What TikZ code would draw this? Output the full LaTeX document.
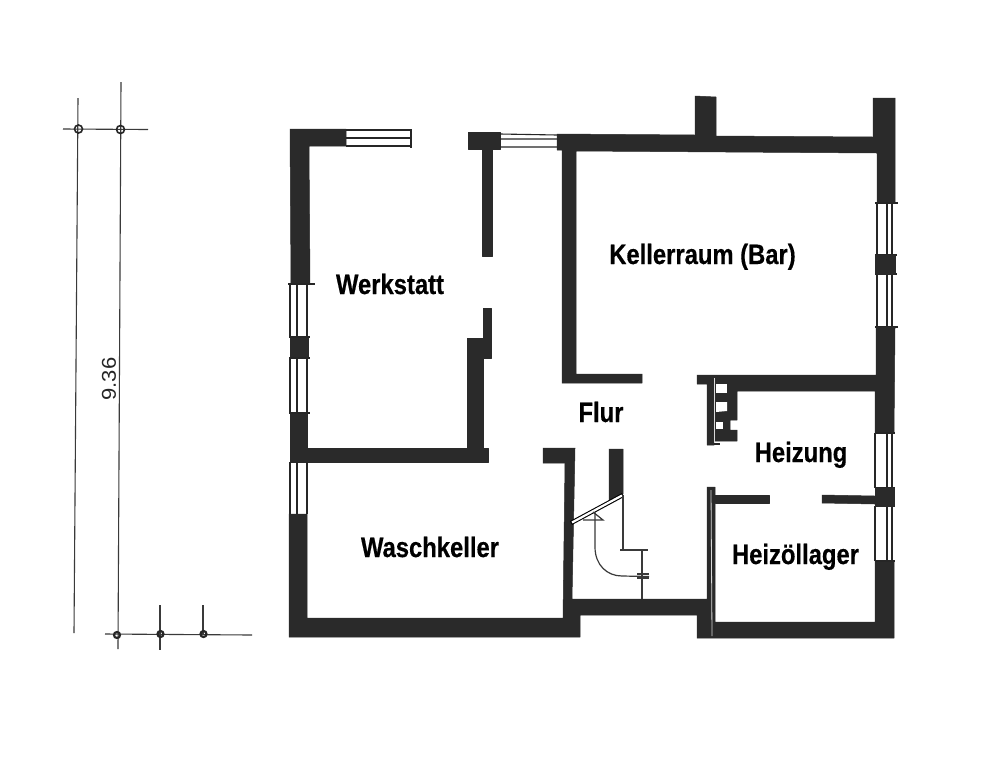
\documentclass[tikz,border=0pt]{standalone}
\usepackage{fontspec}
\setmainfont{Liberation Sans}
\newfontfamily\roomfont[BoldFont={Liberation Sans Bold},FakeBold=0.5]{Liberation Sans Bold}
\definecolor{wallc}{HTML}{2A2A2A}
\definecolor{linec}{HTML}{3A3A3A}
\tikzset{
  wall/.style={fill=wallc,draw=wallc,line width=.5pt,line join=round},
  hole/.style={fill=white,draw=none},
  thin line/.style={draw=linec,line width=1.2pt},
  win line/.style={draw=black!85,line width=1.1pt},
  dim line/.style={draw=linec,line width=1.1pt},
  dim mark/.style={draw=black!85,line width=1.6pt},
  room/.style={inner sep=0pt,anchor=base,font=\roomfont\fontsize{28}{28}\selectfont,text=black},
  scratch/.style={draw=white!85!black,line width=.8pt}
}
\newcommand{\roomtext}[1]{\scalebox{.85}[1]{#1}}
\begin{document}
\begin{tikzpicture}[x=1pt,y=-1pt]
\useasboundingbox[fill=white] (0,0) rectangle (1000,756);
% ---- dimension lines
\draw[dim line] (78,98) -- (74,633);
\draw[dim line] (121,82) -- (118,649);
\draw[dim line] (63,129) -- (148,129.5);
\draw[dim line] (105,634) -- (252,635);
\draw[dim line] (160,605) -- (160,650);
\draw[dim line] (203,605) -- (203,634);
\foreach \p in {(78.5,129),(120.5,129.5)} \draw[dim mark] \p circle [radius=4];
\foreach \p in {(117,635),(160.5,634),(203.5,634)} \draw[dim mark,line width=2.2pt] \p circle [radius=3];
\node[inner sep=0pt,rotate=90,font=\fontsize{20}{20}\selectfont,text=black!85] (dim) at (109,379) {\scalebox{1.1}[1]{9.36}};
% ---- outer left wall with windows
\fill[wall] (290,129) -- (346,129) -- (346,146) -- (309,146) -- (310,284) -- (291,284) -- cycle;
\fill[wall] (290,337) rectangle (308,358);
\fill[wall] (290,413) -- (307,413) -- (307,448) -- (467,448) -- (467,338) -- (483,338) -- (483,308) -- (491,308) -- (491,358) -- (483,358) -- (483,448) -- (488,448) -- (488,462) -- (290,462) -- cycle;
\fill[wall] (289,514) -- (307,514) -- (307,618) -- (563,618) -- (565,463) -- (543,463) -- (543,448) -- (575,448) -- (572,599) -- (697,599) -- (707,599) -- (707,487) -- (715,487) -- (715,622) -- (875,622) -- (875,561) -- (894,561) -- (894,638) -- (697,638) -- (697,615) -- (580,615) -- (580,637) -- (289,637) -- cycle;
% windows left
\foreach \a/\b in {284/337,358/413,462/514} {
  \draw[win line] (290,\a) -- (290,\b) (297,\a) -- (297,\b) (307,\a) -- (307,\b);
}
\foreach \y/\u/\v in {284/288/315,337/289/310,358/289/310,413/289/310} \draw[win line] (\u,\y) -- (\v,\y);
% top-left window
\draw[win line] (346,130) -- (412,130) (346,138) -- (412,138) (346,146) -- (412,146);
\draw[win line,line width=1.5pt] (411,130) -- (411,148);
% middle top wall stub
\fill[wall] (468,132) -- (500,132) -- (500,149) -- (492,149) -- (492,256) -- (482,256) -- (482,149) -- (468,149) -- cycle;
% window top middle
\draw[win line] (500,134) -- (557,135) (500,139) -- (557,139) (500,147) -- (557,147);
% top wall with chimney, right wall, Kellerraum wall
\fill[wall] (557,134) -- (695,135) -- (695,96) -- (716,97) -- (716,136) -- (873,137) -- (873,98) -- (895,98) -- (895,203) -- (877,203) -- (877,153) -- (576,151) -- (576,374) -- (642,374) -- (642,383) -- (562,383) -- (562,150) -- (557,150) -- cycle;
\foreach \a/\b in {203/255,274/327} {
  \draw[win line] (877,\a) -- (877,\b) (887,\a) -- (887,\b) (892,\a) -- (892,\b);
}
\foreach \y in {203,327} \draw[win line] (875,\y) -- (898,\y);
\foreach \y in {255,274} \draw[win line] (875,\y) -- (897,\y);
\fill[wall] (875,255) rectangle (895,274);
% right wall middle and Heizung wall + chimney block
\fill[wall] (876,327) -- (895,327) -- (894,433) -- (875,433) -- (875,391) -- (737,391) -- (737,420) -- (730,420) -- (730,430) -- (737,430) -- (737,441) -- (714,441) -- (714,445) -- (707,445) -- (707,384) -- (697,384) -- (697,375) -- (876,375) -- cycle;
\fill[hole] (716,384) rectangle (727,393);
\fill[hole] (716,402) -- (727,402) -- (727,411) -- (716,412) -- cycle;
\fill[hole] (716,422) rectangle (723,429);
\draw[scratch] (714.5,378) -- (714.5,445);
\draw[win line] (714,444) -- (720,444);
% right lower
\foreach \a/\b in {433/488,506/561} {
  \draw[win line] (875,\a) -- (875,\b) (887,\a) -- (887,\b) (892,\a) -- (892,\b);
}
\foreach \y in {433,488,506,561} \draw[win line] (875,\y) -- (895,\y);
\fill[wall] (875,488) rectangle (894,506);
% Heizung / Heizoellager partition
\fill[wall] (715,495) -- (769,495) -- (769,503) -- (715,503) -- cycle;
\fill[wall] (822,495) -- (875,496) -- (875,504) -- (822,503) -- cycle;
\draw[scratch] (711,490) -- (712,636);
% stair column
\fill[wall] (609,449) -- (623,449) -- (623,494) -- (609,501) -- cycle;
% stair door leaf (white strip with outline)
\draw[black,line width=4.4pt] (571,523) -- (623,495);
\draw[white,line width=2.2pt] (572,522.5) -- (622,495.5);
% triangle
\draw[thin line,line join=miter] (593,512) -- (603,520) -- (583,520);
% stairs
\draw[thin line] (623,495) -- (623,550);
\draw[thin line] (620,550) -- (648,550);
\draw[thin line] (642,550) -- (642,599);
\draw[thin line] (595,512) -- (595,547) .. controls (595,565) and (607,576) .. (622,576) -- (649,576.5);
\draw[thin line,line width=1.4pt] (637,574) -- (649,574) (637,578) -- (649,578);
% labels
\node[room] (werkstatt) at (390,294) {\roomtext{Werkstatt}};
\node[room] (keller) at (702.5,264) {\roomtext{Kellerraum (Bar)}};
\node[room] (flur) at (601,422) {\roomtext{Flur}};
\node[room] (heizung) at (801,462) {\roomtext{Heizung}};
\node[room] (oel) at (795.5,564) {\roomtext{Heizöllager}};
\node[room] (wasch) at (430,557) {\roomtext{Waschkeller}};
\end{tikzpicture}
\end{document}
